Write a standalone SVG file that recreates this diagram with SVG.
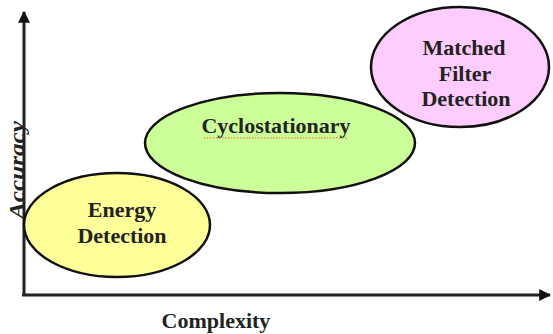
<svg xmlns="http://www.w3.org/2000/svg" width="553" height="334" viewBox="0 0 553 334">
  <style>
    .axis { stroke: #222; stroke-width: 3; fill: none; }
    .node { stroke: #111; stroke-width: 2.5; }
    .lbl { font-family: "Liberation Serif", "Times New Roman", serif; font-weight: bold; font-size: 22px; fill: #222; text-anchor: middle; }
  </style>
  <defs>
    <marker id="arrow" viewBox="0 0 10 10" refX="9" refY="5" markerWidth="4" markerHeight="4" orient="auto" markerUnits="strokeWidth">
      <path d="M0,0 L10,5 L0,10 Z" fill="#111"/>
    </marker>
  </defs>

  <!-- axes -->
  <g id="axes">
    <path class="axis" d="M24,296 L24,12" marker-end="url(#arrow)"/>
    <path class="axis" d="M22,295 L550,295" marker-end="url(#arrow)"/>
  </g>

  <!-- axis titles -->
  <text class="lbl" x="216" y="328">Complexity</text>
  <text class="lbl" transform="translate(24,170) rotate(-90)" font-style="italic" textLength="98" lengthAdjust="spacingAndGlyphs">Accuracy</text>

  <g id="energy-detection">
    <ellipse class="node" cx="117" cy="225" rx="93" ry="52" fill="#FFFF99"/>
    <text class="lbl" x="122" y="217">Energy</text>
    <text class="lbl" x="122" y="243">Detection</text>
  </g>

  <g id="cyclostationary">
    <ellipse class="node" cx="280" cy="143" rx="135" ry="50" fill="#CCFF99"/>
    <text class="lbl" x="276" y="133" font-size="21">Cyclostationary</text>
    <line x1="204" y1="138" x2="348" y2="138" stroke="#E06040" stroke-width="1" stroke-dasharray="1.5,1.5"/>
  </g>

  <g id="matched-filter-detection">
    <ellipse class="node" cx="460" cy="67" rx="89" ry="60" fill="#FFCCFF"/>
    <text class="lbl" x="464" y="55">Matched</text>
    <text class="lbl" x="465" y="81">Filter</text>
    <text class="lbl" x="466" y="106">Detection</text>
  </g>
</svg>
